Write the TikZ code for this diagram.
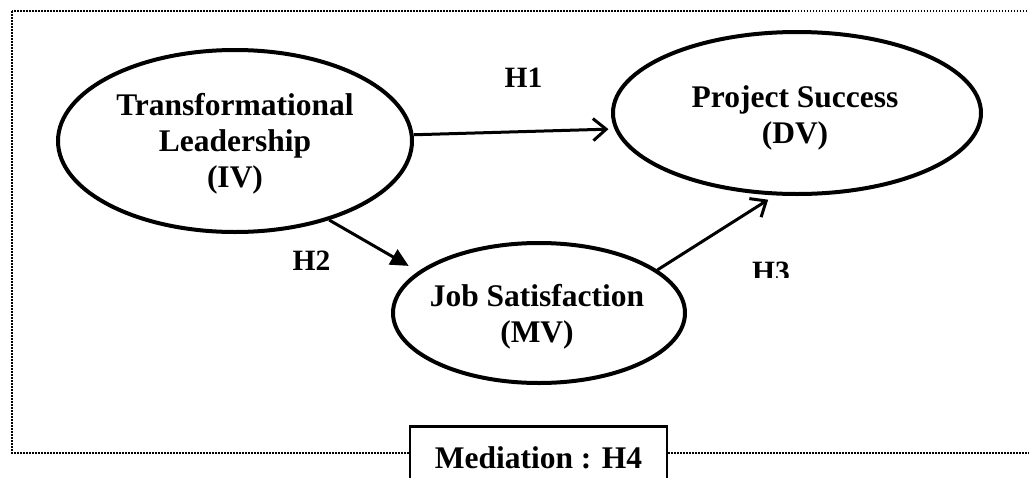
\documentclass[tikz,border=0pt]{standalone}
\usepackage{fontspec}
\setmainfont{Liberation Serif}
\usetikzlibrary{shapes.geometric,arrows.meta}
\begin{document}
\begin{tikzpicture}[x=1pt,y=-1pt,
  oval/.style={ellipse,draw,line width=4pt,inner sep=0pt},
  lbl/.style={font=\fontsize{31.5}{36}\selectfont\bfseries,align=center,inner sep=0pt},
  hyp/.style={font=\fontsize{29.5}{34}\selectfont\bfseries,inner sep=0pt,anchor=base},
  link/.style={line width=3pt},
  openhead/.style={-{Straight Barb[length=13pt,width=22pt,line width=3pt]}},
  filledhead/.style={-{Triangle[length=18pt,width=17pt]}},
  frame/.style={line width=1.5pt,dash pattern=on 1.5pt off 1.5pt},
  medbox/.style={draw,line width=2.7pt,fill=white,minimum width=257pt,minimum height=62pt,
    inner sep=0pt,anchor=north,font=\fontsize{31.5}{36}\selectfont\bfseries}
]
\clip (0,0) rectangle (1029,477);
\draw[frame] (12,11) rectangle (1045,453);

\node[oval,minimum width=354pt,minimum height=182pt] (iv) at (235,141) {};
\node[lbl] (ivt) at (235,144) {Transformational\\Leadership\\(IV)};
\node[oval,minimum width=368pt,minimum height=162pt] (dv) at (797,113) {};
\node[lbl] (dvt) at (795,118) {Project Success\\(DV)};
\node[oval,minimum width=292pt,minimum height=140pt] (mv) at (539,313) {};
\node[lbl] (mvt) at (537,317) {Job Satisfaction\\(MV)};

\draw[link,openhead,shorten >=6pt] (iv.2) -- (dv.185);
\draw[link,filledhead,shorten >=11pt] (iv.-40) -- (mv.161);
\draw[link,openhead,shorten >=8pt] (mv.20) -- (dv.255);

\node[hyp] (h1) at (523.5,87) {H1};
\node[hyp] (h2) at (311.5,270) {H2};
\begin{scope}
  \clip (700,240) rectangle (850,277);
  \node[hyp] (h3) at (771,281) {H3};
\end{scope}

\node[medbox] (med) at (538.5,425) {Mediation : H4};
\end{tikzpicture}
\end{document}
